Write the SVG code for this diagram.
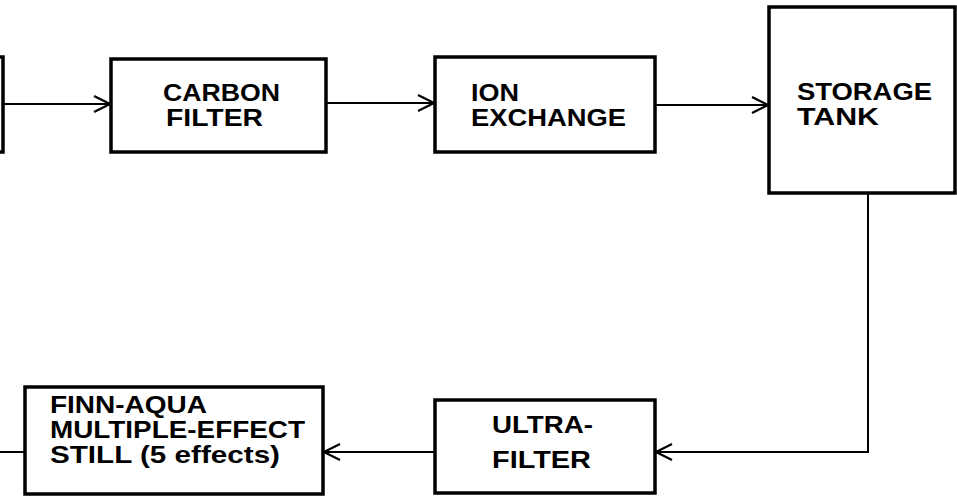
<svg xmlns="http://www.w3.org/2000/svg" width="957" height="497" viewBox="0 0 957 497">
<defs>
<style>
.box{fill:#fff;stroke:#000;stroke-width:3.5}
.lbl{font-family:"Liberation Sans",Arial,sans-serif;font-weight:bold;font-size:24px;fill:#000}
.con{fill:none;stroke:#000;stroke-width:2}
</style>
<marker id="arr" markerUnits="userSpaceOnUse" markerWidth="20" markerHeight="20" viewBox="-18 -10 20 20" refX="0" refY="0" orient="auto">
<path d="M-16,-8 L0,0 L-16,8" fill="none" stroke="#000" stroke-width="2.2"/>
</marker>
</defs>
<rect width="957" height="497" fill="#fff"/>
<g id="connectors">
<line class="con" x1="3" y1="104" x2="110" y2="104" marker-end="url(#arr)"/>
<line class="con" x1="326" y1="103" x2="434" y2="103" marker-end="url(#arr)"/>
<line class="con" x1="655" y1="105" x2="768" y2="105" marker-end="url(#arr)"/>
<polyline class="con" points="868,193 868,452 656,452" marker-end="url(#arr)"/>
<line class="con" x1="435" y1="452" x2="324" y2="452" marker-end="url(#arr)"/>
<line class="con" x1="0" y1="452" x2="25" y2="452"/>
</g>
<g id="source">
<rect class="box" x="-20" y="57" width="23" height="95"/>
</g>
<g id="carbon-filter">
<rect class="box" x="111" y="59" width="215" height="93"/>
<text class="lbl" x="163" y="101" textLength="117" lengthAdjust="spacingAndGlyphs">CARBON</text>
<text class="lbl" x="166" y="126" textLength="97" lengthAdjust="spacingAndGlyphs">FILTER</text>
</g>
<g id="ion-exchange">
<rect class="box" x="435" y="57" width="220" height="95"/>
<text class="lbl" x="471" y="101" textLength="48" lengthAdjust="spacingAndGlyphs">ION</text>
<text class="lbl" x="471" y="126" textLength="155" lengthAdjust="spacingAndGlyphs">EXCHANGE</text>
</g>
<g id="storage-tank">
<rect class="box" x="769" y="7" width="186" height="186"/>
<text class="lbl" x="797" y="100" textLength="135" lengthAdjust="spacingAndGlyphs">STORAGE</text>
<text class="lbl" x="797" y="125" textLength="82" lengthAdjust="spacingAndGlyphs">TANK</text>
</g>
<g id="ultra-filter">
<rect class="box" x="435" y="400" width="220" height="93"/>
<text class="lbl" x="492" y="433" textLength="101" lengthAdjust="spacingAndGlyphs">ULTRA-</text>
<text class="lbl" x="492" y="468" textLength="99" lengthAdjust="spacingAndGlyphs">FILTER</text>
</g>
<g id="finn-aqua-still">
<rect class="box" x="25" y="387" width="298" height="107"/>
<text class="lbl" x="50" y="413" textLength="157" lengthAdjust="spacingAndGlyphs">FINN-AQUA</text>
<text class="lbl" x="50" y="438" textLength="255" lengthAdjust="spacingAndGlyphs">MULTIPLE-EFFECT</text>
<text class="lbl" x="50" y="463" textLength="230" lengthAdjust="spacingAndGlyphs">STILL (5 effects)</text>
</g>
</svg>
